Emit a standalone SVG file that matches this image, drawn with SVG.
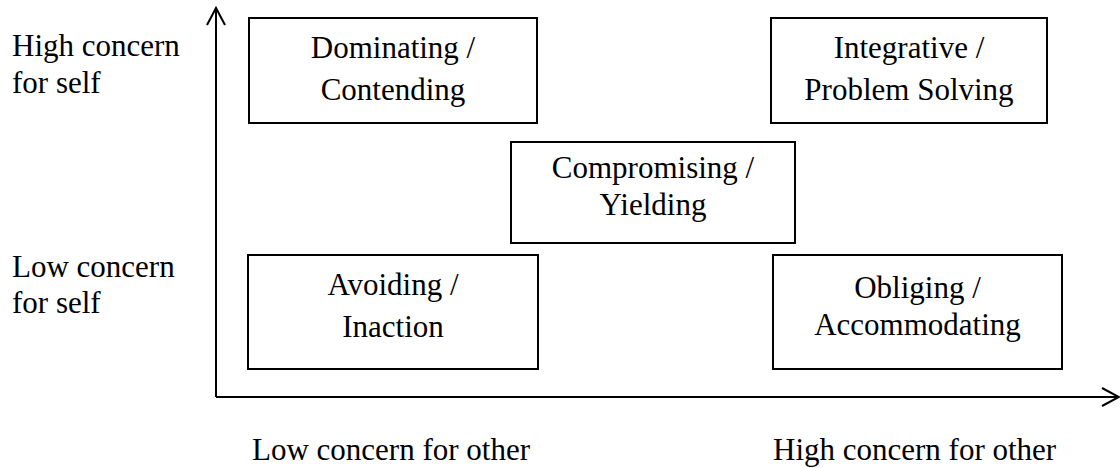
<svg xmlns="http://www.w3.org/2000/svg" width="1120" height="468" viewBox="0 0 1120 468">
<style>
.box{fill:#fff;stroke:#000;stroke-width:2}
.ax{fill:none;stroke:#000;stroke-width:2}
text{font-family:"Liberation Serif","Times New Roman",serif;font-size:31px;fill:#000}
.c{text-anchor:middle}
</style>
<g id="connectors">
<path class="ax" d="M216,397 V8 M207,25 L216,8 L225,25"/>
<path class="ax" d="M216,397 H1119 M1102,388 L1119,397 L1102,406"/>
</g>
<g id="axis-labels">
<text x="12" y="56">High concern</text>
<text x="12" y="93">for self</text>
<text x="12" y="277">Low concern</text>
<text x="12" y="313">for self</text>
<text x="252" y="460">Low concern for other</text>
<text x="773" y="460">High concern for other</text>
</g>
<g id="dominating">
<rect class="box" x="249" y="18" width="288" height="105"/>
<text class="c" x="393" y="58">Dominating /</text>
<text class="c" x="393" y="100">Contending</text>
</g>
<g id="integrative">
<rect class="box" x="771" y="18" width="276" height="105"/>
<text class="c" x="909" y="58">Integrative /</text>
<text class="c" x="909" y="100">Problem Solving</text>
</g>
<g id="compromising">
<rect class="box" x="511" y="142" width="284" height="101"/>
<text class="c" x="653" y="178">Compromising /</text>
<text class="c" x="653" y="215">Yielding</text>
</g>
<g id="avoiding">
<rect class="box" x="248" y="255" width="290" height="114"/>
<text class="c" x="393" y="295">Avoiding /</text>
<text class="c" x="393" y="337">Inaction</text>
</g>
<g id="obliging">
<rect class="box" x="773" y="255" width="289" height="114"/>
<text class="c" x="917.5" y="298">Obliging /</text>
<text class="c" x="917.5" y="335">Accommodating</text>
</g>
</svg>
